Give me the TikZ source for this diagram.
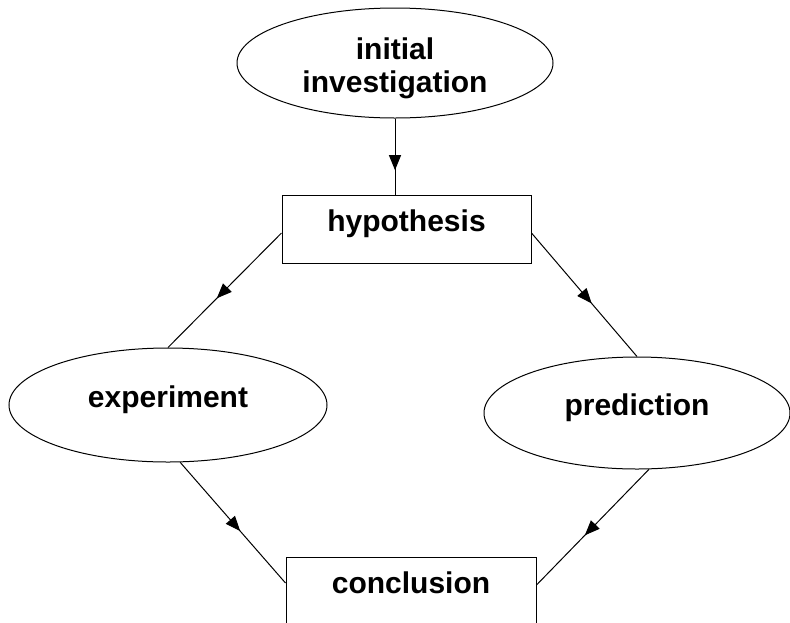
\documentclass[tikz,border=0pt]{standalone}
\usepackage{fontspec}
\setmainfont{Liberation Sans}
\usetikzlibrary{shapes.geometric,arrows.meta,decorations.markings}

\begin{document}
\begin{tikzpicture}[x=1pt, y=-1pt, line width=1pt,
  every node/.style={font=\fontsize{30}{33}\selectfont\bfseries},
  oval/.style={draw, ellipse, inner sep=0pt},
  box/.style={draw, rectangle, minimum width=249pt, minimum height=68pt, text height=22pt, text depth=18pt},
  midarrow/.style={postaction={decorate}, decoration={markings, mark=at position #1 with {\arrow{Triangle[length=15pt,width=12pt]}}}},
  midarrow/.default=0.57]
\useasboundingbox (0,0) rectangle (790,622);
\node[oval, minimum width=316pt, minimum height=110pt, align=center] (init) at (395,63) {\rule{0pt}{32pt}initial\\investigation};
\node[box] (hyp) at (406.5,229) {hypothesis};
\node[oval, minimum width=318pt, minimum height=114pt, text height=22pt, text depth=18pt] (exp) at (168,405) {experiment};
\node[oval, minimum width=306pt, minimum height=112pt, text height=22pt, text depth=18pt] (pred) at (637,413) {prediction};
\node[box, minimum width=250pt] (con) at (411,591) {conclusion};
% links
\draw[midarrow=0.68] (init.south) -- (init.south |- hyp.north);
\draw[midarrow] ([yshift=-4pt]hyp.west) -- (exp.north);
\draw[midarrow] ([yshift=-4pt]hyp.east) -- (pred.north);
\draw[midarrow] (exp.-78) -- ([yshift=8pt]con.west);
\draw[midarrow] (pred.-78) -- ([yshift=6pt]con.east);
\end{tikzpicture}
\end{document}
